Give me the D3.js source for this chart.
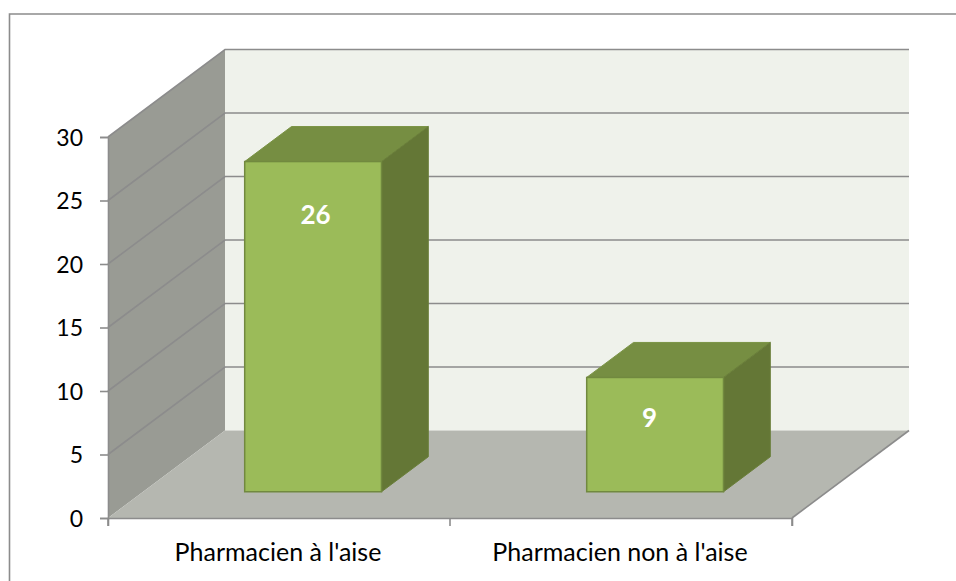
<!DOCTYPE html>
<html>
<head>
<meta charset="utf-8">
<script src="https://cdn.jsdelivr.net/npm/d3@7"></script>
<style>
  body { margin: 0; background: #fff; }
  text { font-family: Lato, "Open Sans", sans-serif; }
</style>
</head>
<body>
<svg id="chart" width="956" height="581"></svg>
<script>
var categories = ["Pharmacien à l'aise", "Pharmacien non à l'aise"];
var values = [26, 9];
var yTicks = [0, 5, 10, 15, 20, 25, 30];

var svg = d3.select("#chart");

// frame, only top and left show in the picture
svg.append("path")
  .attr("d", d3.line()([[9.5, 581], [9.5, 14], [956, 14]]))
  .attr("fill", "none").attr("stroke", "#8c8c8c").attr("stroke-width", 1.6);

// front plane of the 3d box, depth is added as a shift
var x = d3.scaleBand().domain(categories).range([108, 792]).paddingInner(0.6).paddingOuter(0.3);
var y = d3.scaleLinear().domain([0, 30]).range([518, 137]);
var depthX = 117, depthY = -87.5;

function pts(a) {
  return a.map(function (p) { return p[0] + "," + p[1]; }).join(" ");
}

var left = x.range()[0], right = x.range()[1];

// back wall
svg.append("polygon")
  .attr("points", pts([[left + depthX, y(30) + depthY], [right + depthX, y(30) + depthY],
                       [right + depthX, y(0) + depthY], [left + depthX, y(0) + depthY]]))
  .attr("fill", "#eff2eb");

// side wall
svg.append("polygon")
  .attr("points", pts([[left, y(0)], [left + depthX, y(0) + depthY],
                       [left + depthX, y(30) + depthY], [left, y(30)]]))
  .attr("fill", "#999b94");

// floor
svg.append("polygon")
  .attr("points", pts([[left, y(0)], [right, y(0)],
                       [right + depthX, y(0) + depthY], [left + depthX, y(0) + depthY]]))
  .attr("fill", "#b5b7b0");

// gridlines, bent at the corner
svg.append("g").selectAll("polyline")
  .data(yTicks)
  .enter()
  .append("polyline")
    .attr("points", function (d) {
      if (d == 0) return pts([[right, y(0)], [right + depthX, y(0) + depthY]]);
      return pts([[left, y(d)], [left + depthX, y(d) + depthY], [right + depthX, y(d) + depthY]]);
    })
    .attr("fill", "none")
    .attr("stroke", "#8c8c8c")
    .attr("stroke-width", 1.6);

// Y axis
var yAxis = d3.axisLeft(y).tickValues(yTicks).tickSize(8).tickPadding(17);
var gy = svg.append("g").attr("transform", "translate(" + left + ",0)").call(yAxis);
gy.selectAll("line").attr("stroke", "#8c8c8c").attr("stroke-width", 1.6);
gy.select(".domain").attr("stroke", "#8c8c8c").attr("stroke-width", 1.6);
gy.selectAll("text").style("font-size", "23px").attr("fill", "#000").attr("y", 1);

// X axis
var band = d3.scaleBand().domain(categories).range([left, right]);
var gx = svg.append("g").attr("transform", "translate(0," + y(0) + ")")
  .call(d3.axisBottom(band).tickSize(0).tickPadding(25).tickSizeOuter(8));
gx.select(".domain").attr("stroke", "#8c8c8c").attr("stroke-width", 1.6);
gx.selectAll("text").style("font-size", "25px").attr("fill", "#000").attr("dx", -1);
gx.selectAll(".boundary")
  .data(d3.range(categories.length + 1))
  .enter()
  .append("line")
    .attr("x1", function (i) { return left + i * band.step(); })
    .attr("x2", function (i) { return left + i * band.step(); })
    .attr("y1", 0).attr("y2", 8)
    .attr("stroke", "#8c8c8c").attr("stroke-width", 1.6);

// bars sit 30% into the depth and are 40% deep
var offX = depthX * 0.3 - 1, offY = depthY * 0.3;
var barX = depthX * 0.4, barY = depthY * 0.4;

var bars = svg.append("g").selectAll("g")
  .data(categories.map(function (c, i) { return { name: c, value: values[i] }; }))
  .enter()
  .append("g")
    .attr("transform", "translate(" + offX + "," + offY + ")");

// top
bars.append("polygon")
  .attr("points", function (d) {
    var x0 = x(d.name), x1 = x0 + x.bandwidth(), t = y(d.value);
    return pts([[x0, t], [x1, t], [x1 + barX, t + barY], [x0 + barX, t + barY]]);
  })
  .attr("fill", "#768e42").attr("stroke", "#7a9345").attr("stroke-width", 1);

// side
bars.append("polygon")
  .attr("points", function (d) {
    var x1 = x(d.name) + x.bandwidth(), t = y(d.value), b = y(0);
    return pts([[x1, t], [x1 + barX, t + barY], [x1 + barX, b + barY], [x1, b]]);
  })
  .attr("fill", "#647736").attr("stroke", "#6a7f3a").attr("stroke-width", 1);

// front
bars.append("rect")
  .attr("x", function (d) { return x(d.name); })
  .attr("y", function (d) { return y(d.value); })
  .attr("width", x.bandwidth())
  .attr("height", function (d) { return y(0) - y(d.value); })
  .attr("fill", "#9bbb59").attr("stroke", "#71893f").attr("stroke-width", 1.5);

// labels, the short bar has its label placed a bit differently
bars.append("text")
  .attr("x", function (d) { return x(d.name) + x.bandwidth() / 2 + (d.value > 15 ? 2.5 : -5.5); })
  .attr("y", function (d) { return y(d.value) + (d.value > 15 ? 62 : 50); })
  .attr("text-anchor", "middle")
  .attr("fill", "#fff")
  .style("font-size", "26px")
  .style("font-weight", "700")
  .text(function (d) { return d.value; });
</script>
</body>
</html>
